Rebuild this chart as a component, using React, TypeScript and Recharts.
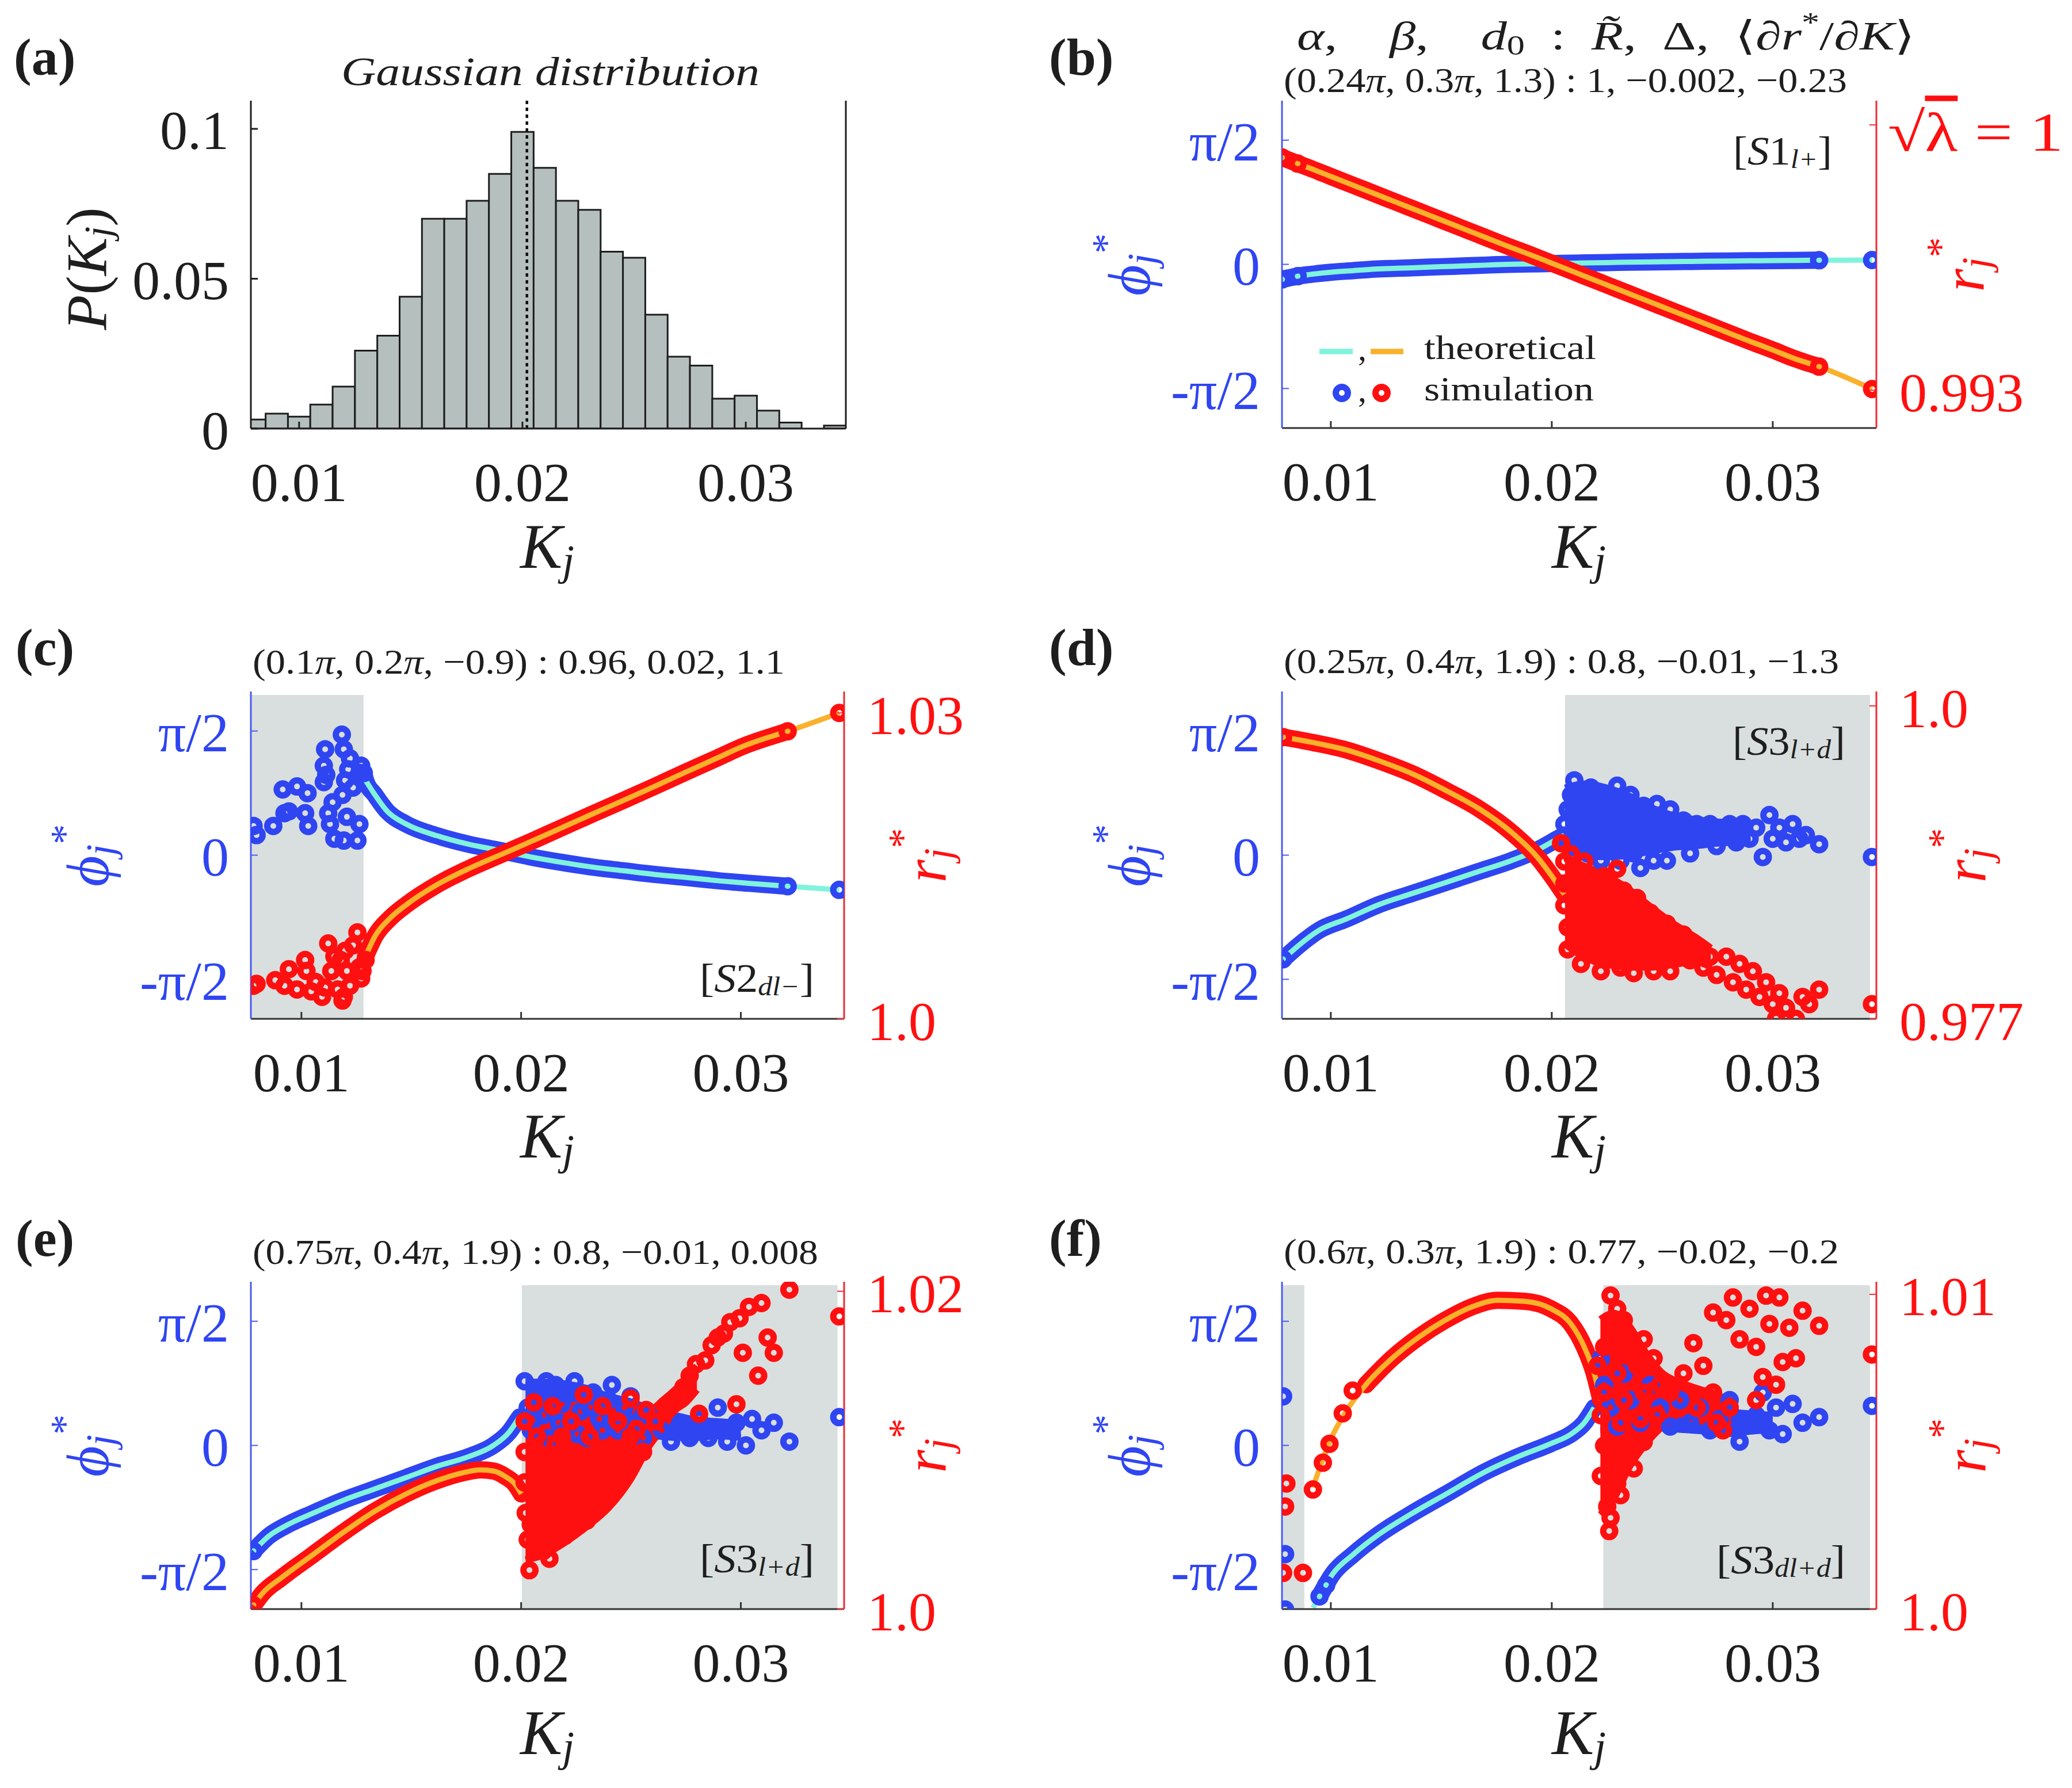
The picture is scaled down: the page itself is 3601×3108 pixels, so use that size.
import React from 'react'
import { ComposedChart, XAxis, YAxis, Line, Area, Scatter, ReferenceArea, ReferenceLine } from 'recharts'

const SERIF = '"Liberation Serif", "DejaVu Serif", serif'
const INK = '#1e1e1e'
const AXIS_INK = '#333'
const BLUE = '#2f45f2'
const RED = '#ff1010'
const CYAN = '#80f3dc'
const ORANGE = '#f9b12c'
const AXIS_BLUE = '#4a5cf0'
const AXIS_RED = '#ef2a36'
const SHADE = '#d9dfde'
const BAR_FILL = '#b5c0be'

// ---- axes ----
const K_TICKS = [0.01, 0.02, 0.03]
const K_TICK_LABELS = ['0.01', '0.02', '0.03']
const PHI_TICKS = [-Math.PI / 2, 0, Math.PI / 2]
const PHI_TICK_LABELS = ['-π/2', '0', 'π/2']
const PHI_MAX = Math.PI / 2 + 0.5
const SHADE_TOP = 2.027

// ---- (a) histogram ----
const binCenters = [0.008, 0.009, 0.01, 0.011, 0.012, 0.013, 0.014, 0.015, 0.016, 0.017, 0.018, 0.019, 0.02, 0.021, 0.022, 0.023, 0.024, 0.025, 0.026, 0.027, 0.028, 0.029, 0.03, 0.031, 0.032, 0.033, 0.034]
const binHeights = [0.003, 0.005, 0.004, 0.008, 0.014, 0.026, 0.031, 0.044, 0.07, 0.07, 0.076, 0.085, 0.099, 0.087, 0.076, 0.073, 0.059, 0.057, 0.038, 0.024, 0.021, 0.01, 0.011, 0.006, 0.002, 0, 0.001]
const binWidth = 0.001
const kMean = 0.0202
const histTicks = [0, 0.05, 0.1]
const histTickLabels = ['0', '0.05', '0.1']

// ---- (b) ----
const bPhi = [[0.0078, -0.19], [0.0085, -0.15], [0.009, -0.13], [0.01, -0.1], [0.011, -0.08], [0.012, -0.06], [0.013, -0.05], [0.014, -0.04], [0.015, -0.03], [0.016, -0.02], [0.017, -0.01], [0.018, 0], [0.019, 0.005], [0.02, 0.01], [0.021, 0.015], [0.022, 0.02], [0.023, 0.025], [0.024, 0.03], [0.025, 0.033], [0.026, 0.036], [0.027, 0.04], [0.028, 0.042], [0.029, 0.045], [0.03, 0.047], [0.031, 0.05], [0.0321, 0.052], [0.0345, 0.055]]
const bPhiRings = [[0.0078, -0.19], [0.0085, -0.15], [0.0321, 0.052], [0.0345, 0.055]]
const bR = [[0.0078, 0.99914], [0.0085, 0.99898], [0.009, 0.99887], [0.01, 0.99864], [0.011, 0.99841], [0.012, 0.99818], [0.013, 0.99795], [0.014, 0.99772], [0.015, 0.99749], [0.016, 0.99726], [0.017, 0.99703], [0.018, 0.9968], [0.019, 0.99658], [0.02, 0.99635], [0.021, 0.99612], [0.022, 0.99589], [0.023, 0.99566], [0.024, 0.99543], [0.025, 0.9952], [0.026, 0.99497], [0.027, 0.99474], [0.028, 0.99451], [0.029, 0.99428], [0.03, 0.99406], [0.031, 0.99383], [0.0321, 0.99362], [0.0345, 0.99303]]
const bRRings = [[0.0078, 0.99914], [0.0085, 0.99898], [0.0321, 0.99362], [0.0345, 0.99303]]
const bRTicks = [0.993, 1]
const bRTickLabels = ['0.993', '√λ = 1']

// ---- (c) ----
const cPhiTheory = [[0.01292, 0.947], [0.01335, 0.762], [0.01391, 0.554], [0.01477, 0.393], [0.01618, 0.245], [0.0176, 0.139], [0.01902, 0.06], [0.02044, -0.023], [0.02186, -0.092], [0.02328, -0.152], [0.0247, -0.199], [0.02611, -0.245], [0.02753, -0.282], [0.02895, -0.323], [0.03037, -0.356], [0.03213, -0.393], [0.03448, -0.439]]
const cPhiBand = [[0.01284, 1.04], [0.01292, 0.947], [0.01335, 0.762], [0.01391, 0.554], [0.01477, 0.393], [0.01618, 0.245], [0.0176, 0.139], [0.01902, 0.06], [0.02044, -0.023], [0.02186, -0.092], [0.02328, -0.152], [0.0247, -0.199], [0.02611, -0.245], [0.02753, -0.282], [0.02895, -0.323], [0.03037, -0.356], [0.03213, -0.393]]
const cPhiRings = [[0.00782, 0.37], [0.00796, 0.254], [0.00872, 0.37], [0.00915, 0.832], [0.00923, 0.531], [0.00943, 0.554], [0.0098, 0.869], [0.01017, 0.531], [0.01028, 0.785], [0.01031, 0.37], [0.01102, 1.132], [0.01102, 0.924], [0.01108, 1.34], [0.01113, 1.016], [0.01122, 0.531], [0.0113, 0.393], [0.01142, 0.67], [0.0115, 0.208], [0.01184, 1.525], [0.01187, 0.762], [0.01193, 1.34], [0.01193, 0.185], [0.01199, 0.947], [0.01207, 0.485], [0.01213, 1.086], [0.01221, 1.224], [0.01235, 0.855], [0.01255, 0.185], [0.01264, 0.393], [0.01264, 1.04], [0.01272, 1.132], [0.01284, 1.04], [0.03213, -0.393], [0.03448, -0.439]]
const cRTheory = [[0.01292, 1.00613], [0.01335, 1.00811], [0.01406, 1.00992], [0.01477, 1.01118], [0.01618, 1.01316], [0.0176, 1.01471], [0.01902, 1.01605], [0.02044, 1.01738], [0.02186, 1.01875], [0.02328, 1.02012], [0.0247, 1.02146], [0.02611, 1.02283], [0.02753, 1.02423], [0.02895, 1.0256], [0.03014, 1.02676], [0.0315, 1.02777], [0.03213, 1.0282], [0.03448, 1.03]]
const cRBand = [[0.01292, 1.00613], [0.01335, 1.00811], [0.01406, 1.00992], [0.01477, 1.01118], [0.01618, 1.01316], [0.0176, 1.01471], [0.01902, 1.01605], [0.02044, 1.01738], [0.02186, 1.01875], [0.02328, 1.02012], [0.0247, 1.02146], [0.02611, 1.02283], [0.02753, 1.02423], [0.02895, 1.0256], [0.03014, 1.02676], [0.0315, 1.02777], [0.03213, 1.0282]]
const cRRings = [[0.00782, 1.00325], [0.00796, 1.00343], [0.00881, 1.00379], [0.00923, 1.00325], [0.00943, 1.00487], [0.0098, 1.00288], [0.01017, 1.00577], [0.01023, 1.00469], [0.01045, 1.0027], [0.01065, 1.00361], [0.01094, 1.00216], [0.01108, 1.00307], [0.01122, 1.00739], [0.01136, 1.00469], [0.0115, 1.00613], [0.01165, 1.00288], [0.01179, 1.00577], [0.01187, 1.0018], [0.01193, 1.00216], [0.01199, 1.00667], [0.01207, 1.00469], [0.01221, 1.00325], [0.01235, 1.00721], [0.01255, 1.00847], [0.01264, 1.00505], [0.01272, 1.00397], [0.01278, 1.00469], [0.01292, 1.00577], [0.03213, 1.0282], [0.03448, 1.03]]
const cRTicks = [1.0, 1.03]
const cRTickLabels = ['1.0', '1.03']

// ---- (d) ----
const dPhiTheory = [[0.00784, -1.317], [0.00859, -1.132], [0.00949, -0.947], [0.01069, -0.809], [0.01219, -0.624], [0.01368, -0.485], [0.01518, -0.347], [0.01668, -0.208], [0.01817, -0.069], [0.01937, 0.069], [0.02027, 0.208], [0.02057, 0.254]]
const dPhiCore = [[0.0206, 0.05, 0.85], [0.0215, 0.0, 0.9], [0.0225, -0.02, 0.85], [0.0235, 0.0, 0.75], [0.0245, 0.05, 0.6], [0.0255, 0.1, 0.5], [0.0265, 0.12, 0.45], [0.0275, 0.15, 0.42], [0.0285, 0.17, 0.4], [0.029, 0.18, 0.38]]
const dPhiRings = [[0.00784, -1.317], [0.02057, 0.393], [0.02072, 0.578], [0.02087, 0.762], [0.02102, 0.947], [0.02117, 0.208], [0.02132, 0.439], [0.02147, 0.67], [0.02162, 0.023], [0.02177, 0.855], [0.02192, 0.3], [0.02207, 0.578], [0.02222, -0.069], [0.02237, 0.762], [0.02251, 0.162], [0.02266, 0.439], [0.02281, 0.67], [0.02296, 0.878], [0.02311, -0.069], [0.02326, 0.3], [0.02341, 0.578], [0.02356, 0.762], [0.02371, 0.023], [0.02386, 0.393], [0.02401, -0.162], [0.02416, 0.624], [0.02431, 0.208], [0.02446, 0.439], [0.02461, -0.069], [0.02476, 0.647], [0.02491, 0.162], [0.02506, 0.393], [0.02521, -0.069], [0.02536, 0.578], [0.02566, 0.208], [0.02596, 0.439], [0.02626, 0.023], [0.02656, 0.393], [0.02686, 0.208], [0.02716, 0.393], [0.02746, 0.116], [0.02775, 0.3], [0.02805, 0.393], [0.02835, 0.162], [0.02865, 0.393], [0.02895, 0.208], [0.02925, 0.347], [0.02955, -0.023], [0.02985, 0.508], [0.03, 0.208], [0.0303, 0.347], [0.0306, 0.162], [0.0309, 0.393], [0.0312, 0.208], [0.0315, 0.254], [0.0321, 0.139], [0.03449, -0.023]]
const dRTheory = [[0.00784, 0.99771], [0.00919, 0.99731], [0.01069, 0.99677], [0.01219, 0.99596], [0.01368, 0.99502], [0.01518, 0.99381], [0.01668, 0.99247], [0.01817, 0.99072], [0.01937, 0.98884], [0.02012, 0.98722], [0.02057, 0.98615]]
const dRCore = [[0.0206, 0.9825, 0.9888], [0.0215, 0.9815, 0.9882], [0.0225, 0.981, 0.9875], [0.0235, 0.9808, 0.9865], [0.0245, 0.9808, 0.9852], [0.0255, 0.981, 0.984], [0.0265, 0.9812, 0.983], [0.0272, 0.9808, 0.9822]]
const dRRings = [[0.00784, 0.99771], [0.02042, 0.98991], [0.02057, 0.98857], [0.02057, 0.98695], [0.02057, 0.98534], [0.02072, 0.98373], [0.02072, 0.98211], [0.02087, 0.9891], [0.02102, 0.98776], [0.02102, 0.98588], [0.02117, 0.98426], [0.02117, 0.98265], [0.02132, 0.98104], [0.02147, 0.98857], [0.02162, 0.98695], [0.02177, 0.98507], [0.02192, 0.98319], [0.02207, 0.98157], [0.02222, 0.9805], [0.02237, 0.98749], [0.02251, 0.98588], [0.02266, 0.98399], [0.02281, 0.98211], [0.02296, 0.98803], [0.02311, 0.98077], [0.02326, 0.98642], [0.02341, 0.98453], [0.02356, 0.98265], [0.02371, 0.98036], [0.02386, 0.98588], [0.02401, 0.98373], [0.02416, 0.98157], [0.02446, 0.9848], [0.02461, 0.9805], [0.02476, 0.98319], [0.02506, 0.98184], [0.02521, 0.98399], [0.02536, 0.9805], [0.02566, 0.98238], [0.02596, 0.98319], [0.02626, 0.9813], [0.02656, 0.98211], [0.02686, 0.98077], [0.02716, 0.98157], [0.02746, 0.98023], [0.0279, 0.98157], [0.0282, 0.97969], [0.0285, 0.98104], [0.0288, 0.97915], [0.0291, 0.9805], [0.0294, 0.97861], [0.0297, 0.97969], [0.03, 0.97808], [0.03015, 0.977], [0.0303, 0.97888], [0.0306, 0.97781], [0.03105, 0.977], [0.03135, 0.97861], [0.03165, 0.97808], [0.0321, 0.97915], [0.03449, 0.97808]]
const dRTicks = [0.977, 1.0]
const dRTickLabels = ['0.977', '1.0']

// ---- (e) ----
const ePhiTheory = [[0.00782, -1.337], [0.00852, -1.146], [0.00938, -1.003], [0.01051, -0.86], [0.01193, -0.692], [0.01335, -0.549], [0.01477, -0.406], [0.01618, -0.263], [0.0176, -0.143], [0.01874, 0], [0.01945, 0.167], [0.01987, 0.334], [0.01993, 0.358]]
const ePhiCore = [[0.0202, 0.15, 0.8], [0.021, 0.1, 0.8], [0.022, 0.1, 0.78], [0.023, 0.1, 0.72], [0.024, 0.12, 0.62], [0.025, 0.12, 0.55], [0.026, 0.12, 0.45], [0.027, 0.1, 0.38], [0.028, 0.1, 0.32], [0.029, 0.12, 0.3], [0.03, 0.1, 0.28]]
const ePhiRings = [[0.00782, -1.337], [0.02016, 0.812], [0.0203, 0.478], [0.02044, 0.191], [0.02058, 0.334], [0.02072, 0.669], [0.02101, 0.382], [0.02115, 0.812], [0.02129, 0.095], [0.02157, 0.764], [0.02172, 0.287], [0.02186, 0.525], [0.022, 0.669], [0.02214, 0.239], [0.02243, 0.812], [0.02257, 0.143], [0.02271, 0.43], [0.02299, 0.095], [0.02313, 0.478], [0.02328, 0.669], [0.02356, 0.334], [0.0237, 0.191], [0.02399, 0.573], [0.02413, 0.764], [0.02441, 0.191], [0.0247, 0.478], [0.02498, 0.621], [0.02512, 0.287], [0.02555, 0.095], [0.02555, 0.382], [0.02597, 0.382], [0.0264, 0.191], [0.02682, 0.048], [0.02725, 0.287], [0.02767, 0.095], [0.0281, 0.334], [0.02852, 0.095], [0.02895, 0.478], [0.02938, 0.048], [0.0298, 0.287], [0.03023, 0], [0.03051, 0.334], [0.03094, 0.191], [0.0315, 0.287], [0.03221, 0.048], [0.03448, 0.358]]
const eRTheory = [[0.00782, 1.00024], [0.00824, 1.00101], [0.00909, 1.00197], [0.01051, 1.00341], [0.01193, 1.00485], [0.01335, 1.00617], [0.01477, 1.00725], [0.01618, 1.00809], [0.01732, 1.00857], [0.01817, 1.00876], [0.01874, 1.00869], [0.0193, 1.00833], [0.01973, 1.00785], [0.02001, 1.00725]]
const eRCore = [[0.0202, 1.0031, 1.0122], [0.021, 1.0034, 1.0126], [0.022, 1.0042, 1.0128], [0.023, 1.0052, 1.0128], [0.024, 1.0064, 1.0127], [0.025, 1.0082, 1.0126], [0.0258, 1.0102, 1.0125], [0.0265, 1.0115, 1.0132], [0.027, 1.0125, 1.0138], [0.0275, 1.013, 1.0145], [0.028, 1.0138, 1.0153]]
const eRRings = [[0.00782, 1.00024], [0.02016, 1.01181], [0.02016, 1.00989], [0.02016, 1.00797], [0.02021, 1.00605], [0.0203, 1.00437], [0.02038, 1.00245], [0.02044, 1.00533], [0.02058, 1.01301], [0.02072, 1.01085], [0.02072, 1.00389], [0.02087, 1.00893], [0.02101, 1.00701], [0.02101, 1.00365], [0.02115, 1.00509], [0.02129, 1.00317], [0.02143, 1.01277], [0.02157, 1.01037], [0.02172, 1.00845], [0.02186, 1.00653], [0.02186, 1.01085], [0.022, 1.00461], [0.02228, 1.01181], [0.02228, 1.00557], [0.02243, 1.00941], [0.02257, 1.00749], [0.02271, 1.00557], [0.02285, 1.01349], [0.02299, 1.00557], [0.02313, 1.01085], [0.02328, 1.00845], [0.02342, 1.00653], [0.02356, 1.00749], [0.0237, 1.01277], [0.02384, 1.00989], [0.02413, 1.00749], [0.02427, 1.00941], [0.02441, 1.01181], [0.0247, 1.00941], [0.02498, 1.01325], [0.02498, 1.01085], [0.02526, 1.01133], [0.02555, 1.00989], [0.02569, 1.01253], [0.02611, 1.01181], [0.02654, 1.01277], [0.02696, 1.01325], [0.02739, 1.01397], [0.02767, 1.01469], [0.02796, 1.01541], [0.0281, 1.01229], [0.02838, 1.01565], [0.02867, 1.01661], [0.02895, 1.01709], [0.02923, 1.01734], [0.02952, 1.01806], [0.0298, 1.01289], [0.02994, 1.0183], [0.03009, 1.01613], [0.03037, 1.01902], [0.03079, 1.01469], [0.03094, 1.01926], [0.03122, 1.01709], [0.0315, 1.01613], [0.03221, 1.0201], [0.03448, 1.01842]]
const eRTicks = [1.0, 1.02]
const eRTickLabels = ['1.0', '1.02']

// ---- (f) ----
const fPhiTheory = [[0.00919, -2.053], [0.00949, -1.91], [0.01009, -1.624], [0.01099, -1.385], [0.01219, -1.122], [0.01368, -0.86], [0.01518, -0.621], [0.01698, -0.334], [0.01847, -0.143], [0.01997, 0.024], [0.02087, 0.143], [0.02147, 0.287], [0.02192, 0.478]]
const fPhiBand = [[0.00949, -1.91], [0.01009, -1.624], [0.01099, -1.385], [0.01219, -1.122], [0.01368, -0.86], [0.01518, -0.621], [0.01698, -0.334], [0.01847, -0.143], [0.01997, 0.024], [0.02087, 0.143], [0.02147, 0.287], [0.02192, 0.478]]
const fPhiCore = [[0.0222, 0.2, 0.9], [0.023, 0.2, 0.75], [0.024, 0.22, 0.65], [0.025, 0.22, 0.58], [0.026, 0.2, 0.5], [0.027, 0.18, 0.45], [0.028, 0.15, 0.42], [0.029, 0.18, 0.4], [0.03, 0.2, 0.38]]
const fPhiRings = [[0.00784, 0.621], [0.00793, -1.375], [0.00793, -2.077], [0.00949, -1.91], [0.00979, -1.767], [0.02222, 1.098], [0.02237, 0.764], [0.02266, 0.478], [0.02296, 0.239], [0.02326, 0.907], [0.02356, 0.573], [0.02401, 0.287], [0.02446, 0.764], [0.02491, 0.478], [0.02536, 0.239], [0.02581, 0.573], [0.02626, 0.287], [0.02671, 0.478], [0.02716, 0.191], [0.0276, 0.334], [0.02805, 0.573], [0.0285, 0.048], [0.0288, 0.287], [0.02925, 0.382], [0.02955, 0.669], [0.02985, 0.191], [0.03015, 0.478], [0.03045, 0.143], [0.0309, 0.525], [0.03135, 0.287], [0.0321, 0.358], [0.03449, 0.501]]
const fRTheory = [[0.00919, 1.00386], [0.00949, 1.00447], [0.00994, 1.00531], [0.01069, 1.00628], [0.01159, 1.00713], [0.01278, 1.00797], [0.01398, 1.00864], [0.01518, 1.00918], [0.01638, 1.0096], [0.01757, 1.00981], [0.01877, 1.00978], [0.01997, 1.00954], [0.02087, 1.00906], [0.02147, 1.00833], [0.02192, 1.00749], [0.02222, 1.00664]]
const fRBand = [[0.01159, 1.00713], [0.01278, 1.00797], [0.01398, 1.00864], [0.01518, 1.00918], [0.01638, 1.0096], [0.01757, 1.00981], [0.01877, 1.00978], [0.01997, 1.00954], [0.02087, 1.00906], [0.02147, 1.00833], [0.02192, 1.00749], [0.02222, 1.00664]]
const fRCore = [[0.0222, 1.003, 1.0092], [0.0228, 1.0035, 1.0094], [0.0235, 1.0045, 1.009], [0.0242, 1.0052, 1.0082], [0.025, 1.0058, 1.0075], [0.0258, 1.0062, 1.0072], [0.0266, 1.006, 1.007], [0.0275, 1.0059, 1.0068], [0.0281, 1.006, 1.0066]]
const fRRings = [[0.00799, 1.00399], [0.00793, 1.00326], [0.00784, 1.00115], [0.00874, 1.00115], [0.00919, 1.0038], [0.00964, 1.00465], [0.00994, 1.00525], [0.01054, 1.00622], [0.01099, 1.00694], [0.02266, 1.00996], [0.02296, 1.00954], [0.02326, 1.00918], [0.02237, 1.00833], [0.02281, 1.00882], [0.02356, 1.00821], [0.02416, 1.00857], [0.02207, 1.00773], [0.02296, 1.00749], [0.02386, 1.00773], [0.02461, 1.00797], [0.02237, 1.00688], [0.02326, 1.00664], [0.02416, 1.00688], [0.02491, 1.00713], [0.02222, 1.00616], [0.02311, 1.00592], [0.02401, 1.00604], [0.02476, 1.00616], [0.02237, 1.00519], [0.02326, 1.00495], [0.02416, 1.00531], [0.02222, 1.00423], [0.02296, 1.00399], [0.02371, 1.00447], [0.02251, 1.00326], [0.02311, 1.00362], [0.02266, 1.0029], [0.0226, 1.00248], [0.02536, 1.00688], [0.02596, 1.00749], [0.02641, 1.00845], [0.02656, 1.0064], [0.02686, 1.00773], [0.0273, 1.00688], [0.02746, 1.00592], [0.02775, 1.00568], [0.02805, 1.0064], [0.0273, 1.00942], [0.0279, 1.00918], [0.0282, 1.0099], [0.0285, 1.00857], [0.02895, 1.00954], [0.02925, 1.00833], [0.02955, 1.00737], [0.0297, 1.00996], [0.02985, 1.00906], [0.0303, 1.0099], [0.03045, 1.00785], [0.03075, 1.00894], [0.03105, 1.00797], [0.03135, 1.00948], [0.0321, 1.009], [0.03449, 1.00809], [0.03015, 1.00713], [0.02925, 1.00664]]
const fRTicks = [1.0, 1.01]
const fRTickLabels = ['1.0', '1.01']

// layout of the phase panels
const WL = 320
const WR = 420
const MT = 40
const HX = 300
const PH = 569
const LEFT_X = [0.0077, 0.0347]
const RIGHT_X = [0.00779, 0.03469]
const RING_R = 10.5
const RING_W = 11

const pts = (a: number[][]) => a.map(([k, v]) => ({ k, v }))
const span = (a: number[][]) => a.map(([k, lo, hi]) => ({ k, v: [lo, hi] }))
const ring = (color: string) => (s: any) =>
  s.cx == null ? <g /> : <circle cx={s.cx} cy={s.cy} r={RING_R} fill="none" stroke={color} strokeWidth={RING_W} />

const labelFor = (ticks: number[], labels: string[], v: number) =>
  labels[ticks.findIndex((t) => Math.abs(t - v) < 1e-9)] ?? ''

const XTick = (t: any) => (
  <text x={t.x} y={t.y + 93} textAnchor="middle" dominantBaseline="central" fontFamily={SERIF} fontSize={96} fill={INK}>
    {labelFor(K_TICKS, K_TICK_LABELS, t.payload.value)}
  </text>
)

const PhiTick = (t: any) => (
  <text x={t.x - 38} y={t.y + 3} textAnchor="end" dominantBaseline="central" fontFamily={SERIF} fontSize={96} fill={BLUE}>
    {labelFor(PHI_TICKS, PHI_TICK_LABELS, t.payload.value)}
  </text>
)

function RTick(t: any) {
  const s = labelFor(t.ticks, t.labels, t.payload.value)
  if (s.startsWith('√')) {
    return (
      <text x={t.x + 20} y={t.y + 12} dominantBaseline="central" fontFamily={SERIF} fontSize={96} fill={RED} textLength={305} lengthAdjust="spacingAndGlyphs">
        √<tspan style={{ textDecoration: 'overline' }}>λ</tspan> = 1
      </text>
    )
  }
  return (
    <text x={t.x + 40} y={t.y + 4} dominantBaseline="central" fontFamily={SERIF} fontSize={96} fill={RED}>
      {s}
    </text>
  )
}

interface PanelProps {
  left: number
  top: number
  width: number
  xDomain: number[]
  rDomain: number[]
  rTicks: number[]
  rLabels: string[]
  shades: number[][]
  phiBand: number[][]
  phiTheory: number[][]
  phiRings: number[][]
  phiCore?: number[][]
  rBand: number[][]
  rTheory: number[][]
  rRings: number[][]
  rCore?: number[][]
}

function PhasePanel(p: PanelProps) {
  return (
    <div style={{ position: 'absolute', left: p.left - WL, top: p.top - MT }}>
      <ComposedChart width={WL + p.width + WR} height={MT + PH + HX} margin={{ top: MT, right: 0, bottom: 0, left: 0 }}>
        <XAxis xAxisId="k" dataKey="k" type="number" domain={p.xDomain} allowDataOverflow ticks={K_TICKS} interval={0}
          height={HX} tickSize={-12} tickMargin={12} axisLine={{ stroke: AXIS_INK, strokeWidth: 3 }}
          tickLine={{ stroke: AXIS_INK, strokeWidth: 3 }} tick={XTick} />
        <YAxis yAxisId="phi" type="number" domain={[-PHI_MAX, PHI_MAX]} allowDataOverflow ticks={PHI_TICKS} interval={0}
          width={WL} tickSize={-12} tickMargin={12} axisLine={{ stroke: AXIS_BLUE, strokeWidth: 3 }}
          tickLine={{ stroke: AXIS_BLUE, strokeWidth: 2 }} tick={PhiTick} />
        <YAxis yAxisId="r" orientation="right" type="number" domain={p.rDomain} allowDataOverflow ticks={p.rTicks} interval={0}
          width={WR} tickSize={-12} tickMargin={12} axisLine={{ stroke: AXIS_RED, strokeWidth: 3 }}
          tickLine={{ stroke: AXIS_RED, strokeWidth: 2 }}
          tick={(t: any) => <RTick {...t} ticks={p.rTicks} labels={p.rLabels} />} />
        {p.shades.map(([a, b], i) => (
          <ReferenceArea key={i} xAxisId="k" yAxisId="phi" x1={a} x2={b} y1={-PHI_MAX} y2={SHADE_TOP}
            fill={SHADE} fillOpacity={1} stroke="none" />
        ))}
        <Line xAxisId="k" yAxisId="phi" data={pts(p.phiBand)} dataKey="v" type="monotone" stroke={BLUE} strokeWidth={30}
          strokeLinecap="round" strokeLinejoin="round" dot={false} isAnimationActive={false} />
        {p.phiCore && (
          <Area xAxisId="k" yAxisId="phi" data={span(p.phiCore)} dataKey="v" type="monotone" stroke={BLUE} strokeWidth={12}
            fill={BLUE} fillOpacity={1} dot={false} activeDot={false} isAnimationActive={false} />
        )}
        <Scatter xAxisId="k" yAxisId="phi" data={pts(p.phiRings)} dataKey="v" shape={ring(BLUE)} isAnimationActive={false} />
        <Line xAxisId="k" yAxisId="phi" data={pts(p.phiTheory)} dataKey="v" type="monotone" stroke={CYAN} strokeWidth={9}
          dot={false} isAnimationActive={false} />
        <Line xAxisId="k" yAxisId="r" data={pts(p.rBand)} dataKey="v" type="monotone" stroke={RED} strokeWidth={30}
          strokeLinecap="round" strokeLinejoin="round" dot={false} isAnimationActive={false} />
        {p.rCore && (
          <Area xAxisId="k" yAxisId="r" data={span(p.rCore)} dataKey="v" type="monotone" stroke={RED} strokeWidth={12}
            fill={RED} fillOpacity={1} dot={false} activeDot={false} isAnimationActive={false} />
        )}
        <Scatter xAxisId="k" yAxisId="r" data={pts(p.rRings)} dataKey="v" shape={ring(RED)} isAnimationActive={false} />
        <Line xAxisId="k" yAxisId="r" data={pts(p.rTheory)} dataKey="v" type="monotone" stroke={ORANGE} strokeWidth={9}
          dot={false} isAnimationActive={false} />
      </ComposedChart>
    </div>
  )
}

function HistPanel() {
  const left = 436
  const top = 175
  const w = 1034
  const h = 570
  const data = binCenters.map((k, i) => ({ k, h: binHeights[i] }))
  const axis = { stroke: INK, strokeWidth: 3 }
  return (
    <div style={{ position: 'absolute', left: left - WL, top: top - MT }}>
      <ComposedChart width={WL + w + WR} height={MT + h + HX} data={data} margin={{ top: MT, right: 0, bottom: 0, left: 0 }}>
        <XAxis xAxisId="b" dataKey="k" type="number" domain={[0.00784, 0.03448]} allowDataOverflow ticks={K_TICKS} interval={0}
          height={HX} tickSize={-12} tickMargin={12} axisLine={axis} tickLine={axis} tick={XTick} />
        <XAxis xAxisId="t" orientation="top" dataKey="k" type="number" domain={[0.00784, 0.03448]} allowDataOverflow
          ticks={K_TICKS} interval={0} height={0} tickSize={-12} axisLine={axis} tickLine={axis} tick={false} />
        <YAxis yAxisId="l" type="number" domain={[0, 0.1094]} allowDataOverflow ticks={histTicks} interval={0} width={WL}
          tickSize={-12} tickMargin={12} axisLine={axis} tickLine={axis}
          tick={(t: any) => (
            <text x={t.x - 38} y={t.y + 3} textAnchor="end" dominantBaseline="central" fontFamily={SERIF} fontSize={96} fill={INK}>
              {labelFor(histTicks, histTickLabels, t.payload.value)}
            </text>
          )} />
        <YAxis yAxisId="r" orientation="right" type="number" domain={[0, 0.1094]} allowDataOverflow ticks={histTicks}
          interval={0} width={WR} tickSize={-12} axisLine={axis} tickLine={axis} tick={false} />
        {binCenters.map((c, i) => (
          <ReferenceArea key={i} xAxisId="b" yAxisId="l" x1={c - binWidth / 2} x2={c + binWidth / 2} y1={0} y2={binHeights[i]}
            fill={BAR_FILL} fillOpacity={1} stroke={INK} strokeWidth={3} ifOverflow="hidden" />
        ))}
        <ReferenceLine xAxisId="b" yAxisId="l" x={kMean} stroke="#111" strokeWidth={4.5} strokeDasharray="6 6" />
        <Scatter xAxisId="b" yAxisId="l" dataKey="h" shape={() => <g />} isAnimationActive={false} />
      </ComposedChart>
    </div>
  )
}

const withPi = (s: string) =>
  s.split('π').flatMap((part, i) => (i === 0 ? [part] : [<tspan key={i} fontStyle="italic">π</tspan>, part]))

const Txt = ({ x, y, size, len, anchor = 'start', fill = INK, children, ...rest }: any) => (
  <text x={x} y={y} fontFamily={SERIF} fontSize={size} textAnchor={anchor} dominantBaseline="central" fill={fill}
    textLength={len} lengthAdjust={len ? 'spacingAndGlyphs' : undefined} style={{ whiteSpace: 'pre' }} {...rest}>
    {children}
  </text>
)

const panelLabels = [
  ['(a)', 24, 99], ['(b)', 1823, 99], ['(c)', 27, 1125], ['(d)', 1823, 1125], ['(e)', 27, 2152], ['(f)', 1823, 2152],
]
const titles = [
  ['(0.24π, 0.3π, 1.3) : 1, −0.002, −0.23', 2231, 139, 979],
  ['(0.1π, 0.2π, −0.9) : 0.96, 0.02, 1.1', 439, 1150, 925],
  ['(0.25π, 0.4π, 1.9) : 0.8, −0.01, −1.3', 2231, 1149, 965],
  ['(0.75π, 0.4π, 1.9) : 0.8, −0.01, 0.008', 439, 2176, 983],
  ['(0.6π, 0.3π, 1.9) : 0.77, −0.02, −0.2', 2231, 2175, 965],
]
const stateTags = [
  ['1', 'l+', 3012, 262, 172],
  ['2', 'dl−', 1216, 1700, 199],
  ['3', 'l+d', 3011, 1288, 196],
  ['3', 'l+d', 1216, 2709, 199],
  ['3', 'dl+d', 2983, 2711, 224],
]
const legendLabels = ['theoretical', 'simulation']
const rowCenters = [460, 1487, 2513]
const kLabelRows = [950, 1975, 3012]

function Overlay() {
  const lf = 60
  return (
    <svg width={3601} height={3108} style={{ position: 'absolute', left: 0, top: 0, pointerEvents: 'none' }}>
      {panelLabels.map(([s, x, y]: any) => (
        <Txt key={s} x={x} y={y} size={92} fontWeight="bold">{s}</Txt>
      ))}
      <Txt x={593} y={124} size={70} len={727} fontStyle="italic">Gaussian distribution</Txt>
      <Txt x={2254} y={62} size={70} len={1074}>
        <tspan fontStyle="italic">α</tspan>,{'    '}<tspan fontStyle="italic">β</tspan>,{'    '}<tspan fontStyle="italic">d</tspan>
        <tspan dy={16} fontSize={48}>0</tspan><tspan dy={-16}>{'  :  '}</tspan><tspan fontStyle="italic">{'R\u0303'}</tspan>
        {',  Δ,  ⟨∂'}<tspan fontStyle="italic">r</tspan><tspan dy={-24} fontSize={48}>*</tspan><tspan dy={24}>/∂</tspan>
        <tspan fontStyle="italic">K</tspan>⟩
      </Txt>
      {titles.map(([s, x, y, len]: any) => (
        <Txt key={s} x={x} y={y} size={62} len={len}>{withPi(s)}</Txt>
      ))}
      {stateTags.map(([n, sub, x, y, len]: any, i) => (
        <Txt key={i} x={x} y={y} size={70} len={len}>
          [<tspan fontStyle="italic">S</tspan>{n}<tspan dy={14} fontSize={46} fontStyle="italic">{sub}</tspan>
          <tspan dy={-14}>]</tspan>
        </Txt>
      ))}
      {kLabelRows.map((y) =>
        [951, 2744].map((x) => (
          <Txt key={`${x}-${y}`} x={x} y={y} size={110} anchor="middle" fontStyle="italic">
            K<tspan dy={24} fontSize={74}>j</tspan>
          </Txt>
        ))
      )}
      <Txt x={150} y={467} size={100} anchor="middle" transform="rotate(-90 150 467)">
        <tspan fontStyle="italic">P</tspan>(<tspan fontStyle="italic">K</tspan>
        <tspan dy={20} fontSize={68} fontStyle="italic">j</tspan><tspan dy={-20}>)</tspan>
      </Txt>
      {rowCenters.map((y, row) =>
        (row === 0 ? [1962] : [152, 1962]).map((x) => (
          <Txt key={`p${x}-${y}`} x={x} y={y} size={104} anchor="middle" fill={BLUE} transform={`rotate(-90 ${x} ${y})`}>
            <tspan fontStyle="italic">ϕ</tspan><tspan dy={22} fontSize={70} fontStyle="italic">j</tspan>
            <tspan dy={-62} fontSize={70}>*</tspan>
          </Txt>
        ))
      )}
      {rowCenters.map((y, row) =>
        (row === 0 ? [3412] : [1608, 3415]).map((x) => (
          <Txt key={`r${x}-${y}`} x={x} y={y} size={104} anchor="middle" fill={RED} transform={`rotate(-90 ${x} ${y})`}>
            <tspan fontStyle="italic">r</tspan><tspan dy={22} fontSize={70} fontStyle="italic">j</tspan>
            <tspan dy={-62} fontSize={70}>*</tspan>
          </Txt>
        ))
      )}
      {/* legend of panel (b) */}
      <line x1={2293} x2={2351} y1={611} y2={611} stroke={CYAN} strokeWidth={9.5} />
      <line x1={2382} x2={2439} y1={611} y2={611} stroke={ORANGE} strokeWidth={9.5} />
      <circle cx={2332} cy={683} r={RING_R} fill="none" stroke={BLUE} strokeWidth={RING_W} />
      <circle cx={2401} cy={683} r={RING_R} fill="none" stroke={RED} strokeWidth={RING_W} />
      <text x={2360} y={626} fontFamily={SERIF} fontSize={lf} fill={INK}>,</text>
      <text x={2360} y={698} fontFamily={SERIF} fontSize={lf} fill={INK}>,</text>
      <text x={2475} y={624} fontFamily={SERIF} fontSize={lf} fill={INK} textLength={299} lengthAdjust="spacingAndGlyphs">{legendLabels[0]}</text>
      <text x={2475} y={696} fontFamily={SERIF} fontSize={lf} fill={INK} textLength={295} lengthAdjust="spacingAndGlyphs">{legendLabels[1]}</text>
    </svg>
  )
}

export default function App() {
  return (
    <div style={{ position: 'absolute', left: 0, top: 0, width: 3601, height: 3108, background: '#fff', overflow: 'hidden' }}>
      <HistPanel />
      <PhasePanel left={2228} top={175} width={1033} xDomain={RIGHT_X} rDomain={[0.992, 1.00064]} rTicks={bRTicks}
        rLabels={bRTickLabels} shades={[]} phiBand={bPhi.slice(0, -1)} phiTheory={bPhi} phiRings={bPhiRings}
        rBand={bR.slice(0, -1)} rTheory={bR} rRings={bRRings} />
      <PhasePanel left={436} top={1202} width={1031} xDomain={LEFT_X} rDomain={[1.0, 1.0321]} rTicks={cRTicks}
        rLabels={cRTickLabels} shades={[[0.0077, 0.01283]]} phiBand={cPhiBand} phiTheory={cPhiTheory} phiRings={cPhiRings}
        rBand={cRBand} rTheory={cRTheory} rRings={cRRings} />
      <PhasePanel left={2228} top={1202} width={1033} xDomain={RIGHT_X} rDomain={[0.977, 1.00106]} rTicks={dRTicks}
        rLabels={dRTickLabels} shades={[[0.0206, 0.0344]]} phiBand={dPhiTheory} phiTheory={dPhiTheory} phiRings={dPhiRings}
        phiCore={dPhiCore} rBand={dRTheory} rTheory={dRTheory} rRings={dRRings} rCore={dRCore} />
      <PhasePanel left={436} top={2228} width={1031} xDomain={LEFT_X} rDomain={[1.0, 1.0206]} rTicks={eRTicks}
        rLabels={eRTickLabels} shades={[[0.02003, 0.0344]]} phiBand={ePhiTheory} phiTheory={ePhiTheory} phiRings={ePhiRings}
        phiCore={ePhiCore} rBand={eRTheory} rTheory={eRTheory} rRings={eRRings} rCore={eRCore} />
      <PhasePanel left={2228} top={2228} width={1033} xDomain={RIGHT_X} rDomain={[1.0, 1.0104]} rTicks={fRTicks}
        rLabels={fRTickLabels} shades={[[0.0078, 0.0088], [0.02233, 0.0344]]} phiBand={fPhiBand} phiTheory={fPhiTheory}
        phiRings={fPhiRings} phiCore={fPhiCore} rBand={fRBand} rTheory={fRTheory} rRings={fRRings} rCore={fRCore} />
      <Overlay />
    </div>
  )
}
